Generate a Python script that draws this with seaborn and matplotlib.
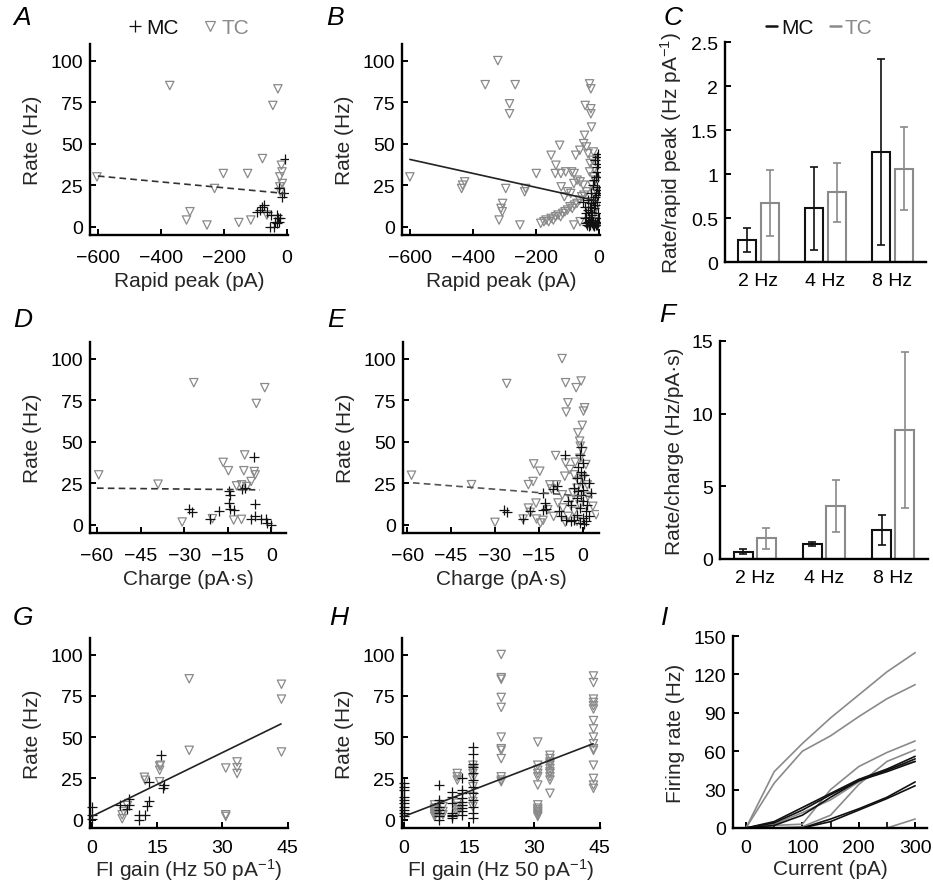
import numpy as np
import pandas as pd
import matplotlib
matplotlib.use("Agg")
import matplotlib.pyplot as plt
import seaborn as sns
from matplotlib.lines import Line2D
from matplotlib.ticker import FormatStrFormatter, MultipleLocator

# ---------------- data ----------------
# Panel A (rapid peak vs rate, one frequency)
A_tc_x = [-372, -29, -45, -603, -78, -202, -125, -230, -308, -319, -254, -153, -115, -18, -16, -23, -15, -23, -21, -64]
A_tc_y = [85, 83, 73, 30, 41, 32, 32, 23, 9, 4, 1, 2.5, 4, 37, 33, 30, 26, 24, 21, 7]
A_mc_x = [-5, -9, -16, -27, -72, -85, -96, -64, -51, -32, -37, -27, -32, -42, -53, -23, -80, -30]
A_mc_y = [41, 20, 18, 23, 13, 10, 9, 9, 7, 7, 3, 3, 2.5, 0, 0, 5, 12, 5]
A_fit_x = [-600, -5]
A_fit_y = [30.5, 20]

# Panel B (all frequencies)
B_tc_x = [-321, -361, -266, -284, -284, -600, -426, -433, -436, -296, -233, -236, -199, -306, -311, -307, -317, -251,
          -125, -152, -137, -139, -121, -106, -87, -79, -61, -74, -49, -46, -44, -26, -26, -24, -30, -26, -35, -40,
          -120, -100, -90, -80, -70, -60, -50, -110,
          -185, -175, -168, -160, -152, -145, -138, -130, -122, -115, -108, -100, -92, -85, -78, -70, -62, -55, -48, -40, -80, -60,
          -20, -15, -18, -12, -22, -10, -16, -25, -8, -14, -20, -10, -5, -30, -28, -18]
B_tc_y = [100, 85.5, 85.5, 74, 68, 30, 27, 25, 23, 23, 23, 21, 32, 14, 11, 9, 4, 1,
          49, 43, 37, 32, 32, 33, 33, 32, 46, 43, 50, 55, 73, 71, 68, 60, 86, 83, 44, 48,
          24, 21, 20, 26, 28, 27, 25, 18,
          2, 3, 4, 3, 5, 4, 6, 7, 6, 8, 9, 10, 12, 11, 13, 14, 16, 18, 19, 21, 1, 3,
          40, 35, 30, 28, 25, 22, 20, 15, 12, 10, 6, 3, 1, 33, 38, 45]
B_mc_x = [-42, -38, -35, -32, -30, -28, -25, -22, -20, -18, -15, -12, -10, -8, -5, -3,
          -40, -36, -33, -30, -27, -24, -21, -19, -16, -14, -12, -9, -7, -5, -3,
          -20, -15, -10, -8, -6, -4, -12, -7, -3, -2, -1, -25, -35, -45, -50, -2, -1, -44]
B_mc_y = [2, 1, 3, 0.5, 2, 1, 4, 2, 1, 3, 0.5, 2, 1, 3, 1, 2,
          8, 10, 6, 12, 9, 14, 7, 16, 11, 18, 13, 20, 15, 24, 19,
          25, 28, 30, 33, 36, 38, 40, 42, 44, 30, 22, 20, 16, 12, 15, 8, 5, 5]
B_fit_x = [-600, -5]
B_fit_y = [40.5, 15.5]

# Panels C and F (bar charts)
freqs = ["2 Hz", "4 Hz", "8 Hz"]
C_mc_mean = [0.25, 0.61, 1.25]
C_mc_err = [0.14, 0.47, 1.06]
C_tc_mean = [0.67, 0.79, 1.06]
C_tc_err = [0.37, 0.33, 0.47]
F_mc_mean = [0.50, 1.03, 2.00]
F_mc_err = [0.18, 0.16, 1.03]
F_tc_mean = [1.42, 3.66, 8.88]
F_tc_err = [0.72, 1.80, 5.35]

# Panel D (charge vs rate, one frequency)
D_tc_x = [-26.7, -2.3, -5.2, -59.4, -39, -30.7, -20.3, -13, -10.3, -16.6, -14.8, -9.2, -9.5, -5.9, -5.6, -7, -12, -10.3, -8.5]
D_tc_y = [85.5, 82.5, 73, 30, 24.4, 1.6, 3.6, 2.8, 3.2, 37.5, 32.5, 42, 32.5, 32, 30, 26, 23.4, 24, 23]
D_mc_x = [-5.9, -28.4, -27.3, -18.2, -21, -14.6, -14.1, -14.6, -14.1, -13, -10.2, -5.5, -5.5, -3.7, -2, -1.5, -0.3, -7.2, -9]
D_mc_y = [41, 9.3, 7.7, 8.3, 3.2, 20, 18, 13.3, 9.3, 9, 21.6, 12.3, 5.2, 3.6, 3.2, 1.2, -0.4, 3.6, 22]
D_fit_x = [-60, -4]
D_fit_y = [22, 21]

# Panel E (all frequencies)
E_tc_x = [-7.1, -26, -5.9, -2.3, -0.6, -5.1, -5.7, 0.6, 0.2, -0.2, -1.7, -1.1, -0.9, -58.5, -38, -30, -16.8, -14.7,
          -9.3, -5.9, -2.6, 1.0, -18.6, -17, -18.6, -18, -13.6, -14.5, -15.8, -20.4, -9, -11.3, -10.7, -6.2, -4.5,
          -8.5, -6.8, 1.7, 3.4, 4.5, -1.4, -3.4, -3, -1, 0, -2, -4, -1, -3, -5, -2, 0, 1.5, -7, -12, -10, -16, -6]
E_tc_y = [100, 85, 85.5, 82.5, 86.5, 73.4, 67.8, 70.4, 68.4, 59.8, 55.3, 50.3, 47.3, 29.8, 24.1, 1.4, 36.6, 32.2,
          41.6, 37.2, 37.6, 36.2, 24.1, 26, 10, 7.4, 2.6, 1, 3.4, 3.4, 24, 24, 21.5, 29.2, 33.2,
          13.1, 10.1, 17.1, 11.1, 6, 26.2, 19.1, 30, 40, 44, 22, 15, 12, 8, 5, 2, 28, 24, 18, 9, 5, 13, 1.5]
E_mc_x = [-6.2, -27, -26, -18, -20.5, -13.6, -13, -13.6, -12.5, -10.2, -7.4, -5.7, -0.6, 0, -0.6, -0.2, 2, 2.8,
          -1, 0.5, -1.5, -2, 0, -1, 1, -2, 0, 1, -1, -3, 0.5, -4, -3, 1.5, -0.5, -8, -4, 0, -1.5, 2, -2, -9, -5]
E_mc_y = [42, 9, 7.4, 8, 3.2, 19, 13, 9, 9.5, 21.5, 5, 3, 47, 37, 32, 25, 25, 19,
          42, 30, 20, 16, 14, 10, 8, 6, 4, 2, 1, 3, 0.5, 12, 22, 12, 18, 8, 2, 21, 35, 5, 28, 23, 14]
E_fit_x = [-58, 4]
E_fit_y = [25.2, 16.7]

# Panel G (FI gain vs rate, one frequency)
G_tc_x = [22.4, 43.6, 43.6, 43.6, 22.4, 15.6, 15.6, 15.6, 12.1, 12.3, 7, 7, 7.3, 8.2, 30.8, 30.8, 30.8, 33.4, 33.4, 33.4, 15.8]
G_tc_y = [85.3, 82, 73, 41, 42, 32.5, 30, 23, 25.7, 23.9, 3, 0.6, 5, 8.6, 31.3, 3, 2, 35, 31.5, 28, 33]
G_mc_x = [16, 16.3, 16.5, 13.1, 13.1, 12.7, 12.3, 10.8, 10.8, 8.5, 8.2, 8.6, 6.6, 0, 0, 0]
G_mc_y = [39, 19, 21, 22.7, 11.6, 8.2, 2.6, 2.6, -0.4, 12.6, 6.6, 9, 9, 8, 2.6, 0.6]
G_fit_x = [0, 43.5]
G_fit_y = [2, 58]

# Panel H (all frequencies)
H_tc_x = [22.4, 22.4, 22.4, 22.4, 22.4, 22.4, 22.4, 22.4, 22.4, 22.4, 22.4, 22.4,
          43.6, 43.6, 43.6, 43.6, 43.6, 43.6, 43.6, 43.6, 43.6, 43.6, 43.6, 43.6, 43.6, 43.6, 43.6, 43.6,
          30.8, 30.8, 30.8, 30.8, 30.8, 30.8, 30.8, 30.8, 30.8, 30.8, 30.8, 30.8, 30.8,
          33.6, 33.6, 33.6, 33.6, 33.6, 33.6, 33.6, 33.6, 33.6, 33.6, 33.6,
          15.9, 15.9, 15.9, 15.9, 15.9, 15.9, 15.9, 15.9,
          12.3, 12.3, 12.3, 12.3, 12.3, 12.3, 12.3,
          7.1, 7.1, 7.1, 7.1, 7.1, 7.1, 7.1, 9.0, 9.0, 9.0]
H_tc_y = [100, 86, 85, 74, 68, 50, 43, 42, 37, 26, 24, 23,
          87, 83, 73, 71, 69, 67, 60, 55, 50, 46, 43, 42, 33, 25, 21, 19,
          47, 33, 30, 28, 26, 21, 9, 7, 6, 5, 4, 3, 2,
          39, 37, 35, 34, 33, 31, 29, 28, 26, 24, 16,
          33, 30, 28, 25, 20, 14, 11, 8,
          28, 26, 24, 10, 8, 6, 4,
          9, 7, 6, 5, 4, 3, 2, 8, 5, 3]
H_mc_x = [0, 0, 0, 0, 0, 0, 0, 0, 0, 0,
          8.2, 8.2, 8.2, 8.2, 8.2, 8.2, 8.2, 8.2,
          11.2, 11.2, 11.2, 11.2, 11.2, 11.2, 11.2,
          13.3, 13.3, 13.3, 13.3, 13.3, 13.3, 13.3, 13.3, 13.3,
          16.0, 16.0, 16.0, 16.0, 16.0, 16.0, 16.0, 16.0, 16.0, 16.0, 16.0, 16.0]
H_mc_y = [22, 20, 18, 14, 12, 10, 8, 6, 4, 2,
          21, 12, 10, 8, 6, 4, 2, 0,
          17, 14, 10, 4, 3, 2, 1,
          25, 18, 16, 13, 11, 9, 7, 5, 3,
          44, 40, 34, 32, 28, 24, 20, 16, 12, 8, 4, 1]
H_fit_x = [0, 43.5]
H_fit_y = [2, 46]

# Panel I (FI curves)
I_current = [0, 50, 100, 150, 200, 250, 300]
I_tc_curves = [
    [0, 44, 66, 86, 104, 122, 137],
    [0, 35, 60, 72, 87, 101, 112],
    [0, 2, 3, 30, 48, 59, 68],
    [0, 0, 1, 10, 34, 52, 61],
    [0, 3, 12, 22, 36, 46, 52],
    [0, 0, 0, 0, 0, 0, 7],
]
I_mc_curves = [
    [0, 5, 16, 27, 38, 46, 56],
    [0, 4, 14, 26, 37, 45, 54],
    [0, 2, 10, 24, 37, 44, 52],
    [0, 0, 0, 7, 15, 24, 36],
    [0, 0, 0, 5, 14, 23, 33],
]

# ---------------- style ----------------
sns.set_theme(style="ticks")
plt.rcParams["font.family"] = ["Liberation Sans", "DejaVu Sans"]
plt.rcParams.update({
    "mathtext.fontset": "custom",
    "mathtext.rm": "Liberation Sans",
    "mathtext.it": "Liberation Sans:italic",
    "mathtext.default": "regular",
    "axes.unicode_minus": True,
})

BLACK = "#111111"
GRAY = "#8a8a8a"
TICK_FS = 14
LABEL_FS = 15
W, H = 933, 887
fig = plt.figure(figsize=(W / 100, H / 100), dpi=100)


def add_ax(l, t, r, b):
    return fig.add_axes([l / W, 1 - b / H, (r - l) / W, (b - t) / H])


def style(ax, xpad=10):
    sns.despine(ax=ax)
    for s in ("left", "bottom"):
        ax.spines[s].set_linewidth(1.7)
        ax.spines[s].set_color("black")
    ax.tick_params(axis="both", direction="in", length=4, width=1.4, labelsize=TICK_FS, colors="black")
    ax.tick_params(axis="x", pad=xpad)
    ax.tick_params(axis="y", pad=5)
    ax.set_facecolor("white")


def scatter_panel(ax, tx, ty, mx, my, fx, fy, fit_style, xlim, xticks, xlabel, clip=True,
                  xpad=10, xlabelpad=4):
    sns.scatterplot(x=tx, y=ty, ax=ax, marker="v", s=36, facecolor="none",
                    edgecolor=GRAY, linewidth=0.9, clip_on=clip, zorder=3)
    sns.scatterplot(x=mx, y=my, ax=ax, marker="+", s=55, color=BLACK,
                    linewidth=0.9, clip_on=clip, zorder=4)
    ls, col = fit_style
    sns.lineplot(x=fx, y=fy, ax=ax, color=col, linewidth=1.2, zorder=5)
    if ls == "--":
        ax.lines[-1].set_dashes((4, 2.5))
    ax.set_xlim(*xlim)
    ax.set_ylim(-5, 110)
    ax.set_xticks(xticks)
    ax.set_yticks([0, 25, 50, 75, 100])
    ax.set_xlabel(xlabel, fontsize=LABEL_FS, labelpad=xlabelpad)
    ax.set_ylabel("Rate (Hz)", fontsize=LABEL_FS, labelpad=6)
    style(ax, xpad=xpad)


# ---- A ----
axA = add_ax(90, 45, 288, 236)
scatter_panel(axA, A_tc_x, A_tc_y, A_mc_x, A_mc_y, A_fit_x, A_fit_y, ("--", "#333333"),
              (-625, 3), [-600, -400, -200, 0], "Rapid peak (pA)")
leg = axA.legend(handles=[Line2D([], [], marker="+", ls="", color=BLACK, ms=8, mew=0.9),
                          Line2D([], [], marker="v", ls="", mfc="none", mec=GRAY, ms=6.5, mew=0.9)],
                 labels=["MC", "TC"], ncol=2, frameon=False, loc="center",
                 bbox_to_anchor=(0.49, 1.085), fontsize=LABEL_FS, handletextpad=0.05,
                 columnspacing=1.0, handlelength=1.0, borderaxespad=0)
leg.get_texts()[0].set_color(BLACK)
leg.get_texts()[1].set_color(GRAY)

# ---- B ----
axB = add_ax(402, 45, 600, 236)
scatter_panel(axB, B_tc_x, B_tc_y, B_mc_x, B_mc_y, B_fit_x, B_fit_y, ("-", "#222222"),
              (-625, 3), [-600, -400, -200, 0], "Rapid peak (pA)")

# ---- D ----
axD = add_ax(90, 343, 286, 534)
scatter_panel(axD, D_tc_x, D_tc_y, D_mc_x, D_mc_y, D_fit_x, D_fit_y, ("--", "#333333"),
              (-62.4, 5), [-60, -45, -30, -15, 0], "Charge (pA·s)")

# ---- E ----
axE = add_ax(403, 343, 599, 534)
scatter_panel(axE, E_tc_x, E_tc_y, E_mc_x, E_mc_y, E_fit_x, E_fit_y, ("--", "#555555"),
              (-61.4, 5.5), [-60, -45, -30, -15, 0], "Charge (pA·s)")

# ---- G ----
axG = add_ax(90, 639, 288, 829)
scatter_panel(axG, G_tc_x, G_tc_y, G_mc_x, G_mc_y, G_fit_x, G_fit_y, ("-", "#222222"),
              (-0.4, 45.1), [0, 15, 30, 45], r"FI gain (Hz 50 pA$^{-1}$)", clip=False,
              xpad=8, xlabelpad=0)

# ---- H ----
axH = add_ax(402, 639, 600, 829)
scatter_panel(axH, H_tc_x, H_tc_y, H_mc_x, H_mc_y, H_fit_x, H_fit_y, ("-", "#222222"),
              (-0.4, 45.1), [0, 15, 30, 45], r"FI gain (Hz 50 pA$^{-1}$)", clip=False,
              xpad=8, xlabelpad=0)


# ---- bar panels C and F ----
def bar_panel(ax, mc_mean, mc_err, tc_mean, tc_err, ylim, yticks, ylabel):
    df = pd.DataFrame({
        "freq": freqs + freqs,
        "type": ["MC"] * 3 + ["TC"] * 3,
        "value": list(mc_mean) + list(tc_mean),
    })
    sns.barplot(data=df, x="freq", y="value", hue="type", hue_order=["MC", "TC"],
                palette={"MC": BLACK, "TC": GRAY}, fill=False, width=0.667, gap=0.18,
                errorbar=None, linewidth=1.5, legend=False, ax=ax)
    bars = ax.patches
    xs = [p.get_x() + p.get_width() / 2 for p in bars]
    ax.errorbar(xs[:3], mc_mean, yerr=mc_err, fmt="none", ecolor=BLACK, elinewidth=1.2,
                capsize=3, capthick=1.2, zorder=5)
    ax.errorbar(xs[3:], tc_mean, yerr=tc_err, fmt="none", ecolor=GRAY, elinewidth=1.2,
                capsize=3, capthick=1.2, zorder=5)
    ax.set_xlim(-0.5, 2.5)
    ax.set_ylim(*ylim)
    ax.set_yticks(yticks)
    ax.yaxis.set_major_formatter(FormatStrFormatter("%g"))
    ax.set_xlabel("")
    ax.set_ylabel(ylabel, fontsize=LABEL_FS, labelpad=5)
    style(ax, xpad=7)
    ax.tick_params(axis="x", length=0)


axC = add_ax(725, 43, 926, 263)
bar_panel(axC, C_mc_mean, C_mc_err, C_tc_mean, C_tc_err, (0, 2.5),
          [0, 0.5, 1, 1.5, 2, 2.5], r"Rate/rapid peak (Hz pA$^{-1}$)")
legC = axC.legend(handles=[Line2D([], [], color=BLACK, lw=1.8), Line2D([], [], color=GRAY, lw=1.8)],
                  labels=["MC", "TC"], ncol=2, frameon=False, loc="center",
                  bbox_to_anchor=(0.47, 1.064), fontsize=LABEL_FS, handletextpad=0.2,
                  columnspacing=0.8, handlelength=0.5, borderaxespad=0)
legC.get_texts()[0].set_color(BLACK)
legC.get_texts()[1].set_color(GRAY)

axF = add_ax(720, 342, 928, 560)
bar_panel(axF, F_mc_mean, F_mc_err, F_tc_mean, F_tc_err, (0, 15),
          [0, 5, 10, 15], "Rate/charge (Hz/pA·s)")

# ---- I ----
axI = add_ax(733, 637, 927, 829)
rows = []
for i, c in enumerate(I_tc_curves):
    for xv, yv in zip(I_current, c):
        rows.append({"cell": f"tc{i}", "type": "TC", "current": xv, "rate": yv})
for i, c in enumerate(I_mc_curves):
    for xv, yv in zip(I_current, c):
        rows.append({"cell": f"mc{i}", "type": "MC", "current": xv, "rate": yv})
dfI = pd.DataFrame(rows)
sns.lineplot(data=dfI, x="current", y="rate", hue="type", units="cell", estimator=None,
             palette={"MC": BLACK, "TC": GRAY}, hue_order=["TC", "MC"], linewidth=1.2,
             legend=False, ax=axI)
axI.set_xlim(-23, 321)
axI.set_ylim(0, 150)
axI.set_xticks([0, 100, 200, 300])
axI.xaxis.set_minor_locator(MultipleLocator(50))
axI.set_yticks([0, 30, 60, 90, 120, 150])
axI.set_xlabel("Current (pA)", fontsize=LABEL_FS, labelpad=2)
axI.set_ylabel("Firing rate (Hz)", fontsize=LABEL_FS, labelpad=6)
style(axI, xpad=8)
axI.tick_params(axis="x", which="minor", direction="in", length=4, width=1.4)

# ---- panel letters ----
letters = [("A", 13, 25), ("B", 326, 25), ("C", 664, 25),
           ("D", 13, 327), ("E", 327, 327), ("F", 659, 322),
           ("G", 13, 625), ("H", 329, 625), ("I", 661, 625)]
for t, x, y in letters:
    fig.text(x / W, 1 - y / H, t, fontsize=19, fontstyle="italic", ha="left", va="baseline",
             color="black")

fig.savefig("out.png", dpi=100, facecolor="white")
